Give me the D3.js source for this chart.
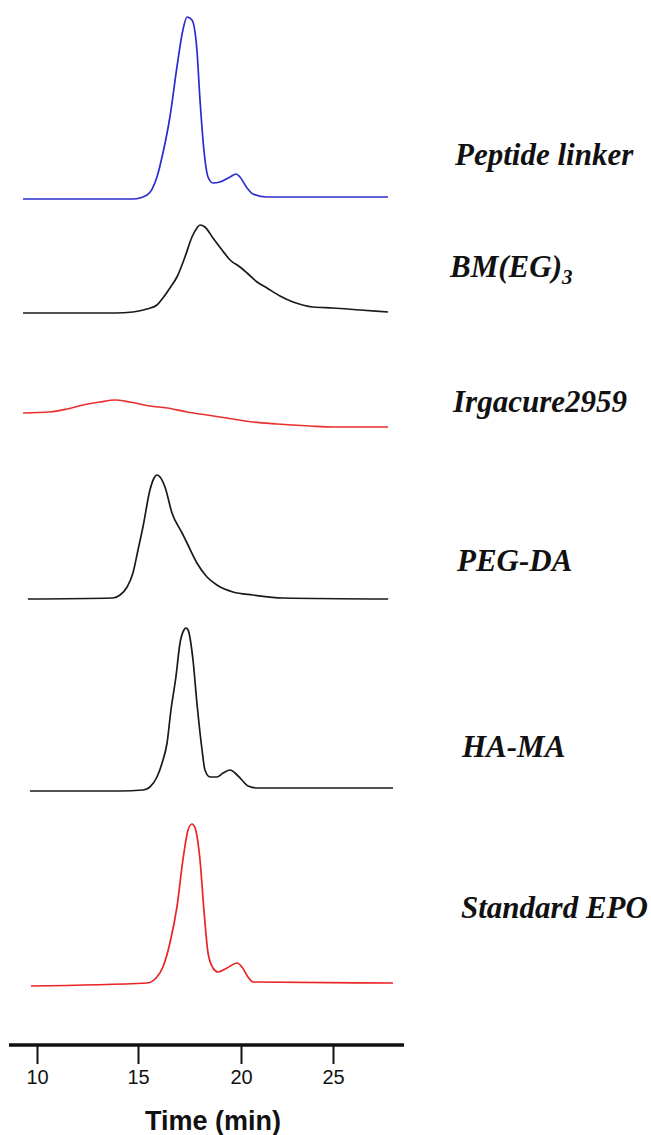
<!DOCTYPE html>
<html>
<head>
<meta charset="utf-8">
<script src="https://cdn.jsdelivr.net/npm/d3@7"></script>
<style>
  body { margin: 0; background: #fff; }
  #chart { width: 651px; height: 1135px; }
</style>
</head>
<body>
<div id="chart"></div>
<script>
// Sample names, top to bottom
const samples = ["Peptide linker", "BM(EG)3", "Irgacure2959", "PEG-DA", "HA-MA", "Standard EPO"];
const traceColors = ["#2b2bd0", "#1a1a1a", "#e8312f", "#1a1a1a", "#1a1a1a", "#e82424"];

// Chromatograms: [time (min), signal (a.u.)]
const peptideLinker = [
  [9.31, 0], [13.12, 0], [14.75, 0], [15.44, 2], [15.92, 11], [16.21, 23], [16.55, 41],
  [16.89, 66], [17.18, 84.5], [17.38, 91], [17.62, 89.5], [17.86, 74.5], [18.01, 49.5],
  [18.20, 24.5], [18.40, 11], [18.64, 8], [18.98, 8.5], [19.47, 11], [19.76, 12.5],
  [19.95, 11], [20.33, 5.5], [20.65, 2.5], [21.41, 1], [23.21, 1], [25.38, 1], [27.99, 1]
];
const bmEG3 = [
  [9.31, 0], [13.86, 0], [14.75, 0.5], [15.44, 2], [15.92, 4], [16.21, 7.5], [16.55, 12.5],
  [16.89, 18], [17.28, 28], [17.62, 38], [17.86, 42.5], [18.01, 44], [18.25, 43],
  [18.64, 37.5], [19.08, 31.5], [19.47, 26.5], [19.95, 23], [20.33, 20], [20.87, 15.5],
  [21.41, 12.5], [22.12, 8.5], [22.83, 5.5], [23.91, 3], [25.0, 2.5], [26.47, 1.5], [27.99, 0.5]
];
const irgacure = [
  [9.31, 7], [10.64, 7.5], [11.49, 9], [12.28, 11], [13.12, 12.5], [13.86, 13.5],
  [14.60, 12.5], [15.58, 10.5], [16.41, 9.5], [17.38, 7.5], [18.35, 6], [19.61, 4],
  [20.65, 2.5], [21.96, 1.5], [23.75, 0.5], [25.0, 0], [27.99, 0]
];
const pegDA = [
  [9.55, 0], [13.76, 0.5], [14.11, 2], [14.46, 6], [14.75, 13], [15.0, 24.5], [15.24, 36],
  [15.58, 54.5], [15.78, 60.5], [15.92, 62], [16.07, 61], [16.31, 56], [16.65, 43],
  [17.14, 33], [17.38, 28], [17.86, 18], [18.35, 11], [18.83, 7], [19.61, 3.5],
  [20.65, 2], [22.28, 0.5], [28.0, 0]
];
const haMA = [
  [9.65, 0], [14.11, 0], [15.24, 0.5], [15.58, 2], [15.92, 7], [16.17, 14], [16.41, 24],
  [16.60, 40.5], [16.84, 57], [17.04, 74], [17.23, 80.5], [17.33, 81.5], [17.43, 80.5],
  [17.67, 65.5], [17.86, 44], [18.11, 20.5], [18.25, 10.5], [18.50, 7], [18.83, 7],
  [19.13, 9], [19.47, 10.5], [19.71, 9], [20.05, 5.5], [20.38, 2.5], [20.87, 1.5], [28.26, 1.5]
];
const standardEPO = [
  [9.70, 0], [15.44, 1.5], [15.92, 4.5], [16.21, 9.5], [16.55, 21.5], [16.89, 39.5],
  [17.18, 63], [17.43, 78], [17.62, 81], [17.77, 79], [18.01, 63], [18.20, 38],
  [18.40, 16.5], [18.64, 9], [18.88, 7], [19.32, 9], [19.81, 11.5], [20.05, 9.5],
  [20.38, 4.5], [20.65, 2], [28.26, 1.5]
];
const traces = [peptideLinker, bmEG3, irgacure, pegDA, haMA, standardEPO];

const timeTicks = [10, 15, 20, 25];

// layout
const W = 651, H = 1135;
const axisY = 1045;
const baselines = [199, 313, 427, 599, 791, 986];
const labelY = [165, 277, 412, 571, 757, 918];
const labelX = [455, 450, 453, 457, 462, 461];

const svg = d3.select("#chart")
  .append("svg")
    .attr("width", W)
    .attr("height", H);

// the printed time axis is slightly uneven, so the scale follows the tick marks
const x = d3.scaleLinear()
  .domain(timeTicks)
  .range([37, 138, 241, 333]);

const amp = d3.scaleLinear().domain([0, 100]).range([0, 200]);

traces.forEach(function(data, i) {
  const line = d3.line()
    .x(function(d) { return x(d[0]) })
    .y(function(d) { return baselines[i] - amp(d[1]) })
    .curve(d3.curveMonotoneX);

  svg.append("path")
    .datum(data)
    .attr("fill", "none")
    .attr("stroke", traceColors[i])
    .attr("stroke-width", 1.7)
    .attr("stroke-linejoin", "round")
    .attr("d", line);
});

// sample labels
const labels = svg.append("g")
  .attr("font-family", "'Liberation Serif', 'Times New Roman', serif")
  .attr("font-weight", "bold")
  .attr("font-style", "italic")
  .attr("font-size", 31)
  .attr("fill", "#111");

samples.forEach(function(name, i) {
  const t = labels.append("text")
    .attr("x", labelX[i])
    .attr("y", labelY[i]);
  if (name === "BM(EG)3") {
    t.append("tspan").text("BM(EG)");
    t.append("tspan").attr("font-size", 21).attr("dy", 7).text("3");
  } else {
    t.text(name);
  }
});

// time axis
const axis = svg.append("g")
  .attr("transform", "translate(0," + axisY + ")")
  .call(d3.axisBottom(x).tickValues(timeTicks).tickSize(19).tickPadding(6));

axis.select(".domain").remove();
axis.insert("line", ":first-child")
  .attr("x1", 9)
  .attr("x2", 404)
  .attr("stroke", "#111")
  .attr("stroke-width", 3.5);
axis.selectAll(".tick line").attr("stroke", "#111").attr("stroke-width", 2);
axis.selectAll(".tick text")
  .attr("font-family", "'Liberation Sans', Arial, sans-serif")
  .attr("font-size", 20)
  .attr("fill", "#111");

svg.append("text")
  .attr("x", 213)
  .attr("y", 1130)
  .attr("text-anchor", "middle")
  .attr("font-family", "'Liberation Sans', Arial, sans-serif")
  .attr("font-weight", "bold")
  .attr("font-size", 27)
  .attr("fill", "#111")
  .text("Time (min)");
</script>
</body>
</html>
